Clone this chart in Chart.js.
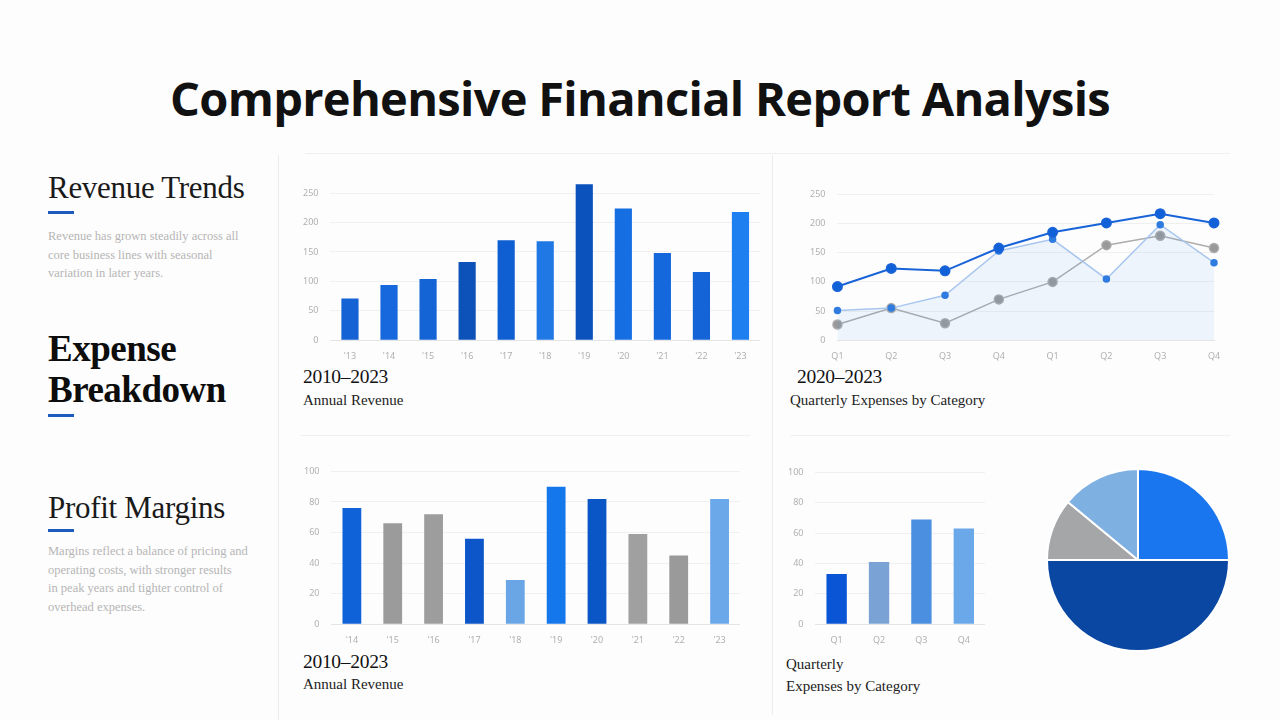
<!DOCTYPE html>
<html>
<head>
<meta charset="utf-8">
<title>Comprehensive Financial Report Analysis</title>
<script src="https://cdn.jsdelivr.net/npm/chart.js@4.4.1/dist/chart.umd.min.js"></script>
<style>
    html, body { margin: 0; padding: 0; }
    body {
        width: 1280px; height: 720px; position: relative; overflow: hidden;
        background: #fdfdfd; font-family: "Liberation Serif", serif; color: #111;
    }
    h1 {
        position: absolute; left: 0; top: 66px; width: 1280px; margin: 0;
        text-align: center; font-family: "Open Sans", sans-serif; font-weight: 700;
        font-size: 47px; letter-spacing: -0.7px; color: #111;
    }
    .side-title { position: absolute; left: 48px; margin: 0; font-weight: 400; font-size: 31px; color: #1a1a1a; letter-spacing: -0.3px; }
    .side-bold { font-weight: 700; font-size: 37px; line-height: 41px; color: #0d0d0d; letter-spacing: -0.5px; }
    .bar-mark { position: absolute; left: 48px; width: 26px; height: 3px; background: #1d5bbf; }
    .side-text { position: absolute; left: 48px; font-size: 12.5px; line-height: 18.5px; color: #b5b5b5; white-space: nowrap; }
    .cap-year { position: absolute; font-size: 19.5px; color: #111; letter-spacing: -0.3px; }
    .cap-name { position: absolute; font-size: 15px; color: #222; }
    .rule-v { position: absolute; width: 1px; background: #ececec; }
    .rule-h { position: absolute; height: 1px; background: #f0f0f0; }
    .box { position: absolute; }
</style>
</head>
<body>

<h1>Comprehensive Financial Report Analysis</h1>

<!-- left column -->
<div class="rule-v" style="left:278px; top:155px; height:565px;"></div>
<div class="side-title" style="top:170px;">Revenue Trends</div>
<div class="bar-mark" style="top:211px;"></div>
<div class="side-text" style="top:227px;">Revenue has grown steadily across all<br>core business lines with seasonal<br>variation in later years.</div>

<div class="side-title side-bold" style="top:328px;">Expense<br>Breakdown</div>
<div class="bar-mark" style="top:414px;"></div>

<div class="side-title" style="top:490px;">Profit Margins</div>
<div class="bar-mark" style="top:529px;"></div>
<div class="side-text" style="top:542px;">Margins reflect a balance of pricing and<br>operating costs, with stronger results<br>in peak years and tighter control of<br>overhead expenses.</div>

<!-- panel rules -->
<div class="rule-h" style="left:305px; top:153px; width:925px;"></div>
<div class="rule-v" style="left:772px; top:155px; height:560px;"></div>
<div class="rule-h" style="left:300px; top:435px; width:450px;"></div>
<div class="rule-h" style="left:790px; top:435px; width:440px;"></div>

<!-- charts -->
<div class="box" style="left:291px; top:161px; width:469px; height:204px;"><canvas id="revenueChart"></canvas></div>
<div class="box" style="left:798px; top:177px; width:432px; height:188px;"><canvas id="expenseChart"></canvas></div>
<div class="box" style="left:292px; top:454px; width:448px; height:195px;"><canvas id="marginChart"></canvas></div>
<div class="box" style="left:776px; top:455px; width:209px; height:194px;"><canvas id="categoryChart"></canvas></div>
<div class="box" style="left:1046px; top:468px; width:184px; height:184px;"><canvas id="shareChart"></canvas></div>

<!-- captions -->
<div class="cap-year" style="left:303px; top:366px;">2010–2023</div>
<div class="cap-name" style="left:303px; top:392px;">Annual Revenue</div>
<div class="cap-year" style="left:797px; top:366px;">2020–2023</div>
<div class="cap-name" style="left:790px; top:392px;">Quarterly Expenses by Category</div>
<div class="cap-year" style="left:303px; top:651px;">2010–2023</div>
<div class="cap-name" style="left:303px; top:676px;">Annual Revenue</div>
<div class="cap-name" style="left:786px; top:653px; line-height:22px;">Quarterly<br>Expenses by Category</div>

<script>
// ---- data ----
const revenueYears = ["'13", "'14", "'15", "'16", "'17", "'18", "'19", "'20", "'21", "'22", "'23"];
const revenueValues = [71, 94, 104, 133, 170, 168, 265, 224, 148, 116, 218];

const quarterLabels = ["Q1", "Q2", "Q3", "Q4", "Q1", "Q2", "Q3", "Q4"];
const operatingCosts = [92, 123, 119, 158, 185, 201, 217, 201];
const marketingCosts = [51, 55, 77, 153, 173, 105, 198, 133];
const adminCosts = [27, 55, 29, 70, 100, 163, 179, 158];

const marginYears = ["'14", "'15", "'16", "'17", "'18", "'19", "'20", "'21", "'22", "'23"];
const marginValues = [76, 66, 72, 56, 29, 90, 82, 59, 45, 82];

const categoryLabels = ["Q1", "Q2", "Q3", "Q4"];
const categoryValues = [33, 41, 69, 63];

const shareLabels = ["Operations", "Payroll", "Administration", "Marketing"];
const shareValues = [25, 50, 11, 14];

// ---- shared look ----
const tickFont = { family: 'Noto Sans', size: 9 };
const tickColor = '#b0b0b0';
const gridColor = '#f0f0f0';

function baseScales(max, step) {
    return {
        x: {
            grid: { display: false },
            border: { color: '#e4e4e4' },
            ticks: { font: tickFont, color: tickColor, padding: 3 }
        },
        y: {
            min: 0,
            max: max,
            border: { display: false },
            grid: { color: gridColor, drawTicks: false },
            ticks: { stepSize: step, includeBounds: false, font: tickFont, color: tickColor, padding: 12 }
        }
    };
}

const baseOptions = {
    responsive: true,
    maintainAspectRatio: false,
    animation: false,
    plugins: { legend: { display: false }, tooltip: { enabled: false } }
};

// Annual revenue bars
new Chart(document.getElementById('revenueChart').getContext('2d'), {
    type: 'bar',
    data: {
        labels: revenueYears,
        datasets: [{
            label: 'Revenue',
            data: revenueValues,
            backgroundColor: ['#1462d4', '#1668dc', '#1464d6', '#0c52b8', '#0f5fd2', '#1f78e4',
                              '#0b52bd', '#156ee2', '#1468dc', '#1464d8', '#1d7ff0'],
            barPercentage: 0.44,
            categoryPercentage: 1
        }]
    },
    options: { ...baseOptions, scales: baseScales(275, 50) }
});

// Quarterly expenses lines
new Chart(document.getElementById('expenseChart').getContext('2d'), {
    type: 'line',
    data: {
        labels: quarterLabels,
        datasets: [
            {
                label: 'Operations',
                data: operatingCosts,
                borderColor: '#1863d8',
                backgroundColor: '#1060d8',
                borderWidth: 2,
                pointRadius: 4.5,
                tension: 0
            },
            {
                label: 'Marketing',
                data: marketingCosts,
                borderColor: '#a8c6ee',
                backgroundColor: 'rgba(70, 140, 225, 0.08)',
                pointBackgroundColor: '#2f7be0',
                pointBorderColor: '#2f7be0',
                borderWidth: 1.5,
                pointRadius: 3,
                fill: 'origin',
                tension: 0
            },
            {
                label: 'Administration',
                data: adminCosts,
                borderColor: '#adadad',
                backgroundColor: '#999999',
                borderWidth: 1.5,
                pointRadius: 4.5,
                tension: 0
            }
        ]
    },
    options: {
        ...baseOptions,
        layout: { padding: { right: 16 } },
        scales: baseScales(250, 50)
    }
});

// Profit margin bars
new Chart(document.getElementById('marginChart').getContext('2d'), {
    type: 'bar',
    data: {
        labels: marginYears,
        datasets: [{
            label: 'Margin',
            data: marginValues,
            backgroundColor: ['#0f62d8', '#9b9b9b', '#9d9d9d', '#0c56c9', '#6aa6e6',
                              '#1477ec', '#0b56c6', '#a0a0a0', '#9a9a9a', '#6aa8ea'],
            barPercentage: 0.46,
            categoryPercentage: 1
        }]
    },
    options: { ...baseOptions, scales: baseScales(100, 20) }
});

// Expenses by category bars
new Chart(document.getElementById('categoryChart').getContext('2d'), {
    type: 'bar',
    data: {
        labels: categoryLabels,
        datasets: [{
            label: 'Expenses',
            data: categoryValues,
            backgroundColor: ['#0a54d6', '#7ba2d4', '#4a8fe0', '#6ba8ea'],
            barPercentage: 0.48,
            categoryPercentage: 1
        }]
    },
    options: { ...baseOptions, scales: baseScales(100, 20) }
});

// Expense share pie
new Chart(document.getElementById('shareChart').getContext('2d'), {
    type: 'pie',
    data: {
        labels: shareLabels,
        datasets: [{
            data: shareValues,
            backgroundColor: ['#1a76ee', '#0a47a2', '#a4a6a8', '#7fb0e2'],
            borderColor: '#ffffff',
            borderWidth: 2
        }]
    },
    options: baseOptions
});
</script>
</body>
</html>
